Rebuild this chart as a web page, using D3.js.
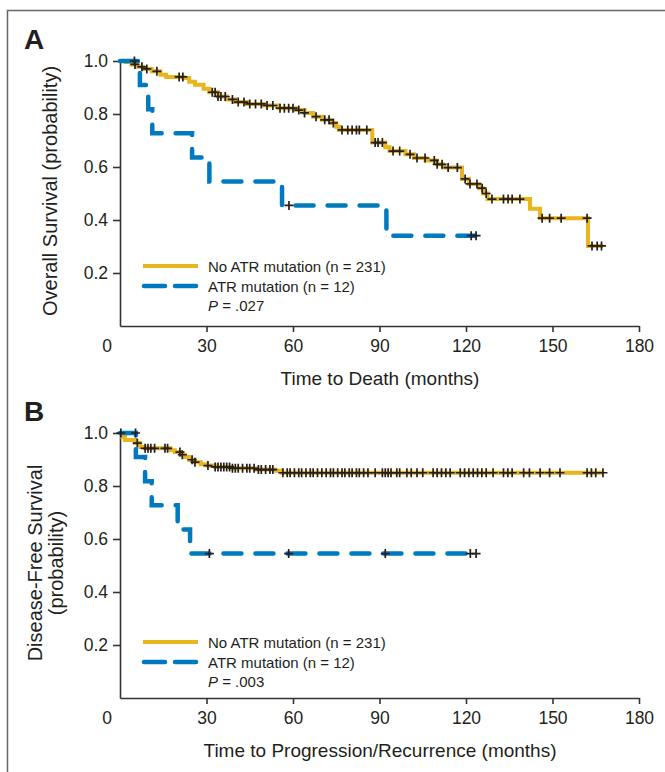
<!DOCTYPE html>
<meta charset="UTF-8">
<style>
body { margin: 0; background: #fff; }
svg { display: block; font-family: "Liberation Sans", Arial, sans-serif; }
.axis path, .axis line { stroke: #333; stroke-width: 1.6px; }
.axis text { font-size: 17.5px; fill: #231f20; font-family: "Liberation Sans", Arial, sans-serif; }
.title { font-family: "Liberation Sans", Arial, sans-serif; font-size: 19px; fill: #231f20; }
.legend text { font-size: 15px; fill: #231f20; }
.letter { font-size: 28px; font-weight: bold; fill: #231f20; }
</style>
<body>
<script src="https://d3js.org/d3.v7.min.js"></script>
<script>

// ---- data (time in months, survival probability) ----
var xTicks = [30, 60, 90, 120, 150, 180];
var yTicks = [0.2, 0.4, 0.6, 0.8, 1.0];
var legendLabels = ["No ATR mutation (n = 231)", "ATR mutation (n = 12)"];

// A: overall survival
var osNoMutSteps = [[0,1],[2,0.996],[4,0.987],[6,0.978],[8,0.970],[11,0.961],[14,0.948],[16,0.940],
  [22,0.936],[24,0.922],[26,0.910],[29,0.895],[31,0.882],[34,0.866],[37,0.855],[40,0.845],[44,0.838],
  [50,0.832],[55,0.822],[61,0.815],[64,0.804],[67,0.790],[70,0.778],[73,0.766],[75,0.752],[76,0.740],
  [87.5,0.692],[92,0.675],[93.5,0.660],[99,0.648],[102,0.634],[106,0.625],[110,0.610],[112,0.598],
  [118.6,0.555],[121,0.536],[124.5,0.520],[126,0.500],[127.5,0.479],[142.2,0.442],[145.7,0.407],[162.3,0.302]];
var osNoMutEnd = 167.6;
var osNoMutCens = [5.2,7.6,9.3,12.8,20.5,21.8,32,33,34,35,36.5,39,41,43,45,47,49,51,53,55.5,57,58.5,60,62,
  64,68,71,72.5,74,77,79,80.5,82,83,85.6,88.5,89.5,91,94.7,97,100.6,103,105.8,109,110,111.7,113.8,117,119.7,
  121.4,123.8,125.6,127,129,133,134.6,136,138.7,146.4,149,153,162,163.7,165.5,167];

var osMutSteps = [[0,1],[6.9,0.909],[9.8,0.818],[11.2,0.727],[25,0.636],[31,0.545],[56.2,0.455],[92.4,0.341]];
var osMutEnd = 124.5;
var osMutCens = [5.0, 58.6, 121.8, 123.5];

// B: disease-free survival
var dfsNoMutSteps = [[0,1],[0.8,0.985],[1.7,0.974],[5.2,0.962],[7,0.947],[8.7,0.942],[17.5,0.935],[19,0.928],
  [21,0.918],[22.5,0.909],[24,0.899],[26,0.890],[28,0.882],[30,0.877],[33,0.872],[38.8,0.867],[47,0.862],
  [53.8,0.858],[56,0.850]];
var dfsNoMutEnd = 167.6;
var dfsNoMutCens = [0.3,6,8.7,9.7,10.7,12,15.6,16.5,20.8,21.6,25,26,30.5,33,34,35,36,37,38,39,40,41,42.5,44,
  45,46.5,48,49,50.5,52,53,56.5,58,59,60.5,62,63,64.5,66,67,68.5,70,71.5,73,74,75.5,77,78,79.5,80.5,82,83,
  84.5,86,88.5,91,92,93,94,96,97,99.5,101,103,105,108.6,110,111.5,113,114.5,118,119.5,121,122.5,124,125.5,
  127,129.4,133,134.5,136,140,142,145.7,149,152.6,162,163.5,165,167.5];

var dfsMutSteps = [[0,1],[5.5,0.909],[8.7,0.818],[11,0.727],[20,0.636],[24.3,0.545]];
var dfsMutEnd = 124.5;
var dfsMutCens = [5.4, 31, 58.5, 92, 121.5, 123.5];

var gold = "#e8b51e", blue = "#0079bf", ink = "#231f20";

var svg = d3.select("body").append("svg")
    .attr("width", 665)
    .attr("height", 772);

// figure frame
svg.append("rect")
    .attr("x", 7.5).attr("y", 10.5)
    .attr("width", 720).attr("height", 820)
    .attr("fill", "none").attr("stroke", "#666").attr("stroke-width", 1.5);

var x = d3.scaleLinear().domain([0, 180]).range([120, 639]);

function survAt(steps, t) {
  var s = steps[0][1];
  for (var i = 0; i < steps.length; i++) {
    if (steps[i][0] <= t) s = steps[i][1];
  }
  return s;
}

function drawPanel(p) {
  var y = d3.scaleLinear().domain([0, 1]).range([p.bottom, p.bottom - 265]);
  var g = svg.append("g");

  // axes
  g.append("g").attr("class", "axis")
    .attr("transform", "translate(0," + p.bottom + ")")
    .call(d3.axisBottom(x).tickValues(xTicks).tickSize(6).tickSizeOuter(0).tickPadding(8));
  g.append("g").attr("class", "axis")
    .attr("transform", "translate(120,0)")
    .call(d3.axisLeft(y).tickValues(yTicks).tickFormat(d3.format(".1f")).tickSize(7).tickSizeOuter(0).tickPadding(5));
  g.selectAll(".axis .domain").attr("stroke-width", 2);

  g.append("text")
    .attr("x", 107).attr("y", p.bottom + 26)
    .attr("text-anchor", "middle")
    .style("font-size", "17.5px").attr("fill", ink)
    .text("0");

  // curves
  var line = d3.line()
      .x(function(d) { return x(d[0]); })
      .y(function(d) { return y(d[1]); })
      .curve(d3.curveStepAfter);

  function curve(steps, end, color, dashed) {
    var pts = steps.concat([[end, steps[steps.length - 1][1]]]);
    var path = g.append("path")
      .datum(pts)
      .attr("d", line)
      .attr("fill", "none")
      .attr("stroke", color)
      .attr("stroke-width", dashed ? 4.5 : 4)
      .attr("stroke-linecap", dashed ? "round" : "butt");
    if (dashed) path.attr("stroke-dasharray", "18,14");
  }
  curve(p.noMut, p.noMutEnd, gold, false);
  curve(p.mut, p.mutEnd, blue, true);

  function censors(steps, times) {
    g.selectAll(null)
      .data(times)
      .enter().append("path")
      .attr("transform", function(t) { return "translate(" + x(t) + "," + y(survAt(steps, t)) + ")"; })
      .attr("d", "M-4.5,0H4.5M0,-4.5V4.5")
      .attr("stroke", ink)
      .attr("stroke-width", 1.7);
  }
  censors(p.noMut, p.noMutCens);
  censors(p.mut, p.mutCens);

  // legend
  var lg = g.append("g").attr("class", "legend");
  lg.append("line").attr("x1", 143).attr("x2", 198).attr("y1", p.legY).attr("y2", p.legY)
    .attr("stroke", gold).attr("stroke-width", 4);
  lg.append("line").attr("x1", 144).attr("x2", 196).attr("y1", p.legY + 20).attr("y2", p.legY + 20)
    .attr("stroke", blue).attr("stroke-width", 4.5).attr("stroke-linecap", "round")
    .attr("stroke-dasharray", "21,10");
  lg.append("text").attr("x", 208).attr("y", p.legY + 6).text(legendLabels[0]);
  lg.append("text").attr("x", 208).attr("y", p.legY + 26).text(legendLabels[1]);
  var pt = lg.append("text").attr("x", 208).attr("y", p.legY + 45);
  pt.append("tspan").style("font-style", "italic").text("P");
  pt.append("tspan").text(" = " + p.pValue);

  // titles
  g.append("text").attr("class", "title")
    .attr("x", 380).attr("y", p.bottom + 59)
    .attr("text-anchor", "middle")
    .text(p.xTitle);
  p.yTitle.forEach(function(t, i) {
    g.append("text").attr("class", "title")
      .attr("transform", "translate(" + p.yTitleX[i] + "," + p.yTitleY + ") rotate(-90)")
      .attr("text-anchor", "middle")
      .style("font-size", p.yTitleSize)
      .text(t);
  });
  g.append("text").attr("class", "letter")
    .attr("x", 24).attr("y", p.letterY)
    .text(p.letter);
}

drawPanel({
  bottom: 326, legY: 266, pValue: ".027", letter: "A", letterY: 49,
  xTitle: "Time to Death (months)",
  yTitle: ["Overall Survival (probability)"], yTitleX: [57], yTitleY: 191, yTitleSize: "20px",
  noMut: osNoMutSteps, noMutEnd: osNoMutEnd, noMutCens: osNoMutCens,
  mut: osMutSteps, mutEnd: osMutEnd, mutCens: osMutCens
});

drawPanel({
  bottom: 698, legY: 642, pValue: ".003", letter: "B", letterY: 421,
  xTitle: "Time to Progression/Recurrence (months)",
  yTitle: ["Disease-Free Survival", "(probability)"], yTitleX: [42, 63], yTitleY: 563, yTitleSize: "20px",
  noMut: dfsNoMutSteps, noMutEnd: dfsNoMutEnd, noMutCens: dfsNoMutCens,
  mut: dfsMutSteps, mutEnd: dfsMutEnd, mutCens: dfsMutCens
});

</script>
</body>
